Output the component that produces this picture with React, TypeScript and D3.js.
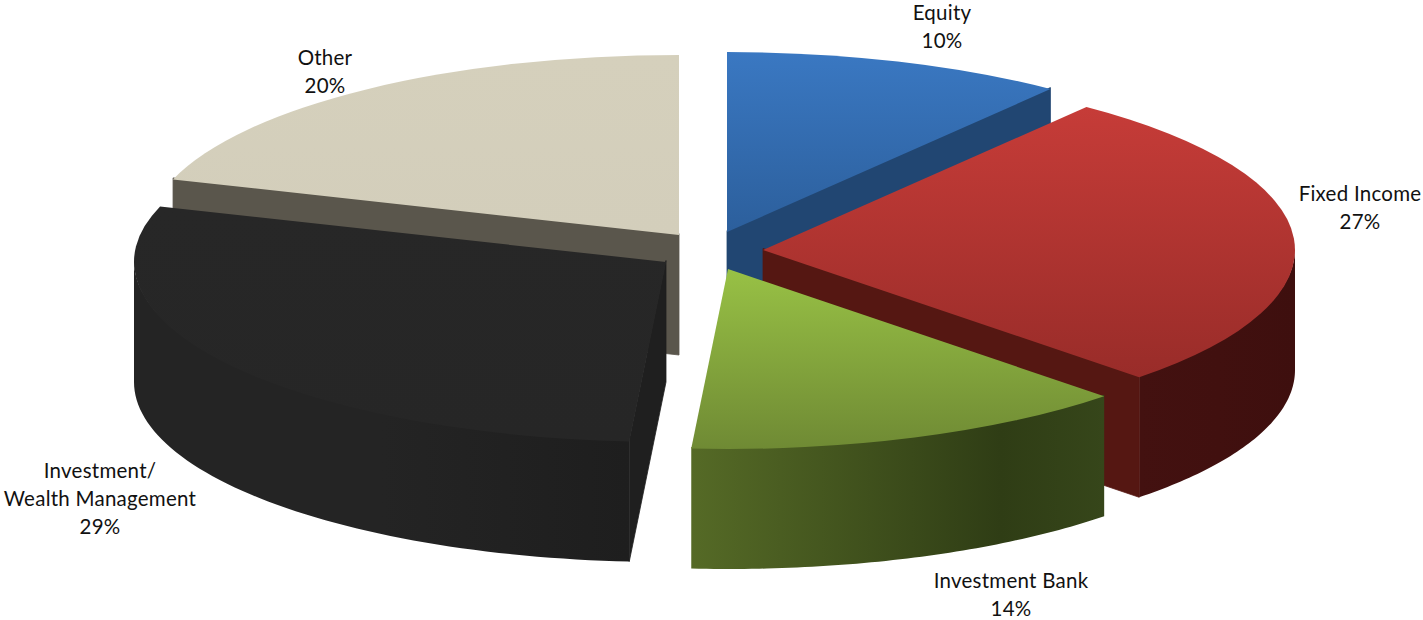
import React from "react";
import * as d3 from "d3";

// Share of revenue by business line, in drawing order around the pie.
const categories = ["Equity", "Fixed Income", "Investment Bank", "Investment/\nWealth Management", "Other"];
const shares = [10.4, 27.1, 13.6, 28.9, 20.0];

const WIDTH = 1423;
const HEIGHT = 620;
const RX = 532;
const RY = 180;
const DEPTH = 120;
const FONT = "Lato, 'Noto Sans', sans-serif";

// Each exploded wedge has its own apex on the page.
const apexes: [number, number][] = [
  [727, 232],
  [763, 250],
  [728, 269],
  [666, 262],
  [679, 235],
];

const topColors = [
  ["#3a78c2", "#2c5f9c"],
  ["#c63c38", "#992c29"],
  ["#98c145", "#6f8a34"],
  ["#272727", "#262626"],
  ["#d5d0bc", "#d3cebb"],
];
const radialColors = ["#214672", "#551712", "#3a4a1a", "#1f1f1f", "#5a564c"];
const wallStops = [
  [["0", "#214672"], ["1", "#214672"]],
  [["0", "#431110"], ["0.5", "#41100f"], ["1", "#3e0f0e"]],
  [["0", "#556a26"], ["0.75", "#2f3d15"], ["1", "#36461a"]],
  [["0", "#242424"], ["0.5", "#242424"], ["1", "#1e1e1e"]],
  [["0", "#5a564c"], ["1", "#5a564c"]],
];

// Labels are positioned by the centre of their first line.
const labelAnchors: [number, number][] = [
  [942, 15],
  [1360, 196],
  [1011, 583],
  [100, 473],
  [325, 60],
];

const LINE_STEP = 28;
// Walls tuck slightly under the top faces so no seam shows along the rim.
const TUCK = 1.5;

const pie = d3.pie<number>().sort(null).startAngle(0).endAngle(2 * Math.PI);
const arcs = pie(shares);
const format = d3.format(".0f");

const rim = (i: number, t: number): [number, number] => [
  apexes[i][0] + RX * Math.sin(t),
  apexes[i][1] - RY * Math.cos(t),
];

const topPath = d3.arc<d3.PieArcDatum<number>>().innerRadius(0).outerRadius(RX);

// Outer curved wall, limited to the part of the rim facing the viewer.
function outerWall(i: number): string | null {
  const a0 = Math.max(arcs[i].startAngle, Math.PI / 2);
  const a1 = Math.min(arcs[i].endAngle, (3 * Math.PI) / 2);
  if (a1 <= a0) return null;
  const samples = d3.range(0, 61).map((k) => a0 + ((a1 - a0) * k) / 60);
  const upper = samples.map((t): [number, number] => {
    const [x, y] = rim(i, t);
    return [x, y - TUCK];
  });
  const lower = [...samples].reverse().map((t): [number, number] => {
    const [x, y] = rim(i, t);
    return [x, y + DEPTH];
  });
  return d3.line()([...upper, ...lower]) + "Z";
}

// Flat cut face running from the apex out to the rim at angle t.
function radialWall(i: number, t: number): string {
  const [ax, ay] = apexes[i];
  const [x, y] = rim(i, t);
  return d3.line()([[ax, ay - TUCK], [x, y - TUCK], [x, y + DEPTH], [ax, ay + DEPTH]]) + "Z";
}

// Back wedges first so that nearer wedges overlap them.
const paintOrder = [4, 0, 3, 1, 2];
const cutAngle = (i: number) => {
  if (i === 3) return [arcs[3].startAngle];
  if (i === 1) return [arcs[1].endAngle];
  if (i === 0) return [arcs[0].endAngle];
  if (i === 4) return [arcs[4].startAngle];
  return [];
};

export default function App() {
  return (
    <svg
      width={WIDTH}
      height={HEIGHT}
      viewBox={`0 0 ${WIDTH} ${HEIGHT}`}
      style={{ position: "absolute", left: 0, top: 0, display: "block" }}
    >
      <defs>
        {topColors.map((c, i) => (
          <linearGradient key={i} id={`top-${i}`} x1="0" y1="0" x2="0" y2="1">
            <stop offset="0" stopColor={c[0]} />
            <stop offset="1" stopColor={c[1]} />
          </linearGradient>
        ))}
        {wallStops.map((stops, i) => (
          <linearGradient key={i} id={`wall-${i}`} x1="0" y1="0" x2="1" y2="0">
            {stops.map(([o, c]) => (
              <stop key={o} offset={o} stopColor={c} />
            ))}
          </linearGradient>
        ))}
      </defs>

      {paintOrder.map((i) => {
        const wall = outerWall(i);
        const scaleY = RY / RX;
        return (
          <g key={categories[i]}>
            {wall && <path d={wall} fill={`url(#wall-${i})`} />}
            {cutAngle(i).map((t) => (
              <path
                key={t}
                d={radialWall(i, t)}
                fill={radialColors[i]}
                stroke={radialColors[i]}
                strokeWidth={0.8}
              />
            ))}
            <path
              d={topPath(arcs[i]) as string}
              transform={`translate(${apexes[i][0]},${apexes[i][1]}) scale(1,${scaleY})`}
              fill={`url(#top-${i})`}
            />
          </g>
        );
      })}

      {categories.map((name, i) => {
        const lines = [...name.split("\n"), `${format(shares[i])}%`];
        return (
          <text
            key={name}
            x={labelAnchors[i][0]}
            y={labelAnchors[i][1]}
            textAnchor="middle"
            dominantBaseline="middle"
            fontFamily={FONT}
            fontSize={20.5}
            letterSpacing={0.25}
            fill="#111"
          >
            {lines.map((line, k) => (
              <tspan key={k} x={labelAnchors[i][0]} y={labelAnchors[i][1] + k * LINE_STEP}>
                {line}
              </tspan>
            ))}
          </text>
        );
      })}
    </svg>
  );
}
